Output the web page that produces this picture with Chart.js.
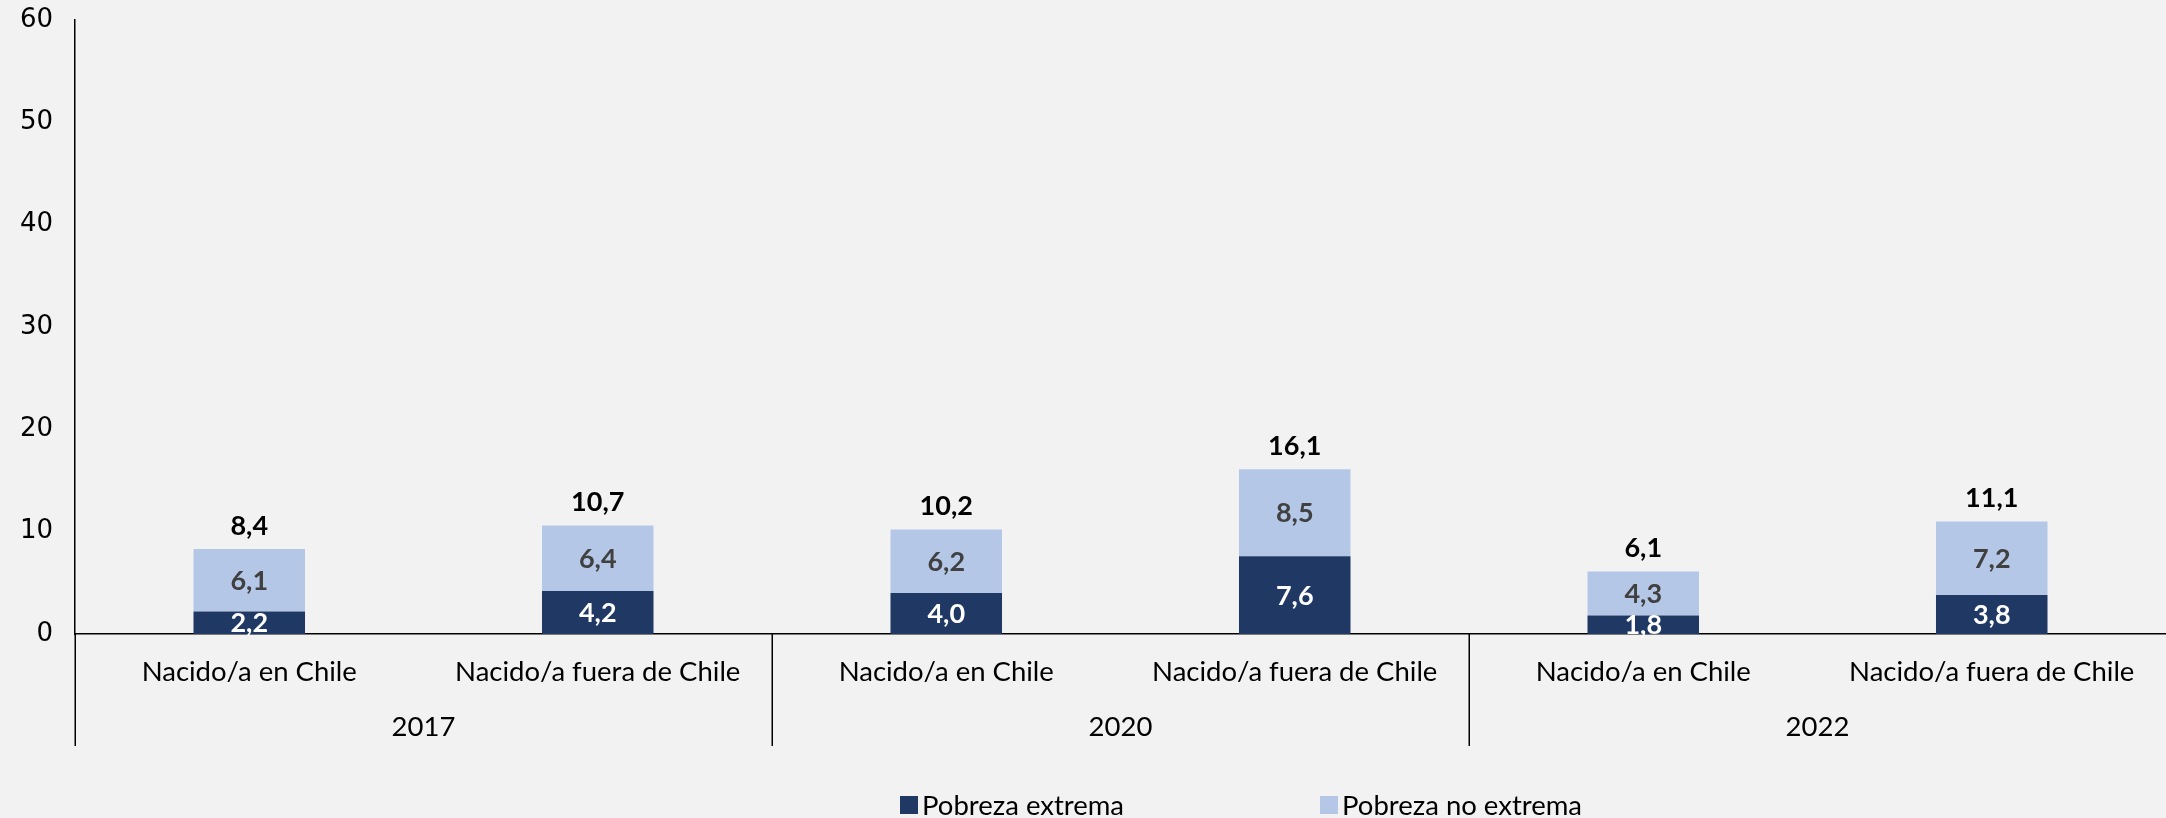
<!DOCTYPE html>
<html>
<head>
<meta charset="utf-8">
<script src="https://cdn.jsdelivr.net/npm/chart.js@4.4.1/dist/chart.umd.min.js"></script>
<style>
  html, body { margin: 0; padding: 0; background: #F2F2F2; }
  canvas { display: block; }
</style>
</head>
<body>
<canvas id="chart" width="2166" height="818"></canvas>
<script>
// ---- data ----
const categories = [
  'Nacido/a en Chile', 'Nacido/a fuera de Chile',
  'Nacido/a en Chile', 'Nacido/a fuera de Chile',
  'Nacido/a en Chile', 'Nacido/a fuera de Chile'
];
const years = ['2017', '2020', '2022'];
const seriesNames = ['Pobreza extrema', 'Pobreza no extrema'];
const pobrezaExtrema   = [2.2, 4.2, 4.0, 7.6, 1.8, 3.8];
const pobrezaNoExtrema = [6.1, 6.4, 6.2, 8.5, 4.3, 7.2];
const totales          = [8.4, 10.7, 10.2, 16.1, 6.1, 11.1];
const yTicks = [0, 10, 20, 30, 40, 50, 60];

// ---- styles ----
const COLOR_EXT = '#203864';
const COLOR_NOEXT = '#B4C7E7';
const LABEL_FONT = 'Lato';
const fmt = v => v.toFixed(1).replace('.', ',');

const bgPlugin = {
  id: 'bg',
  beforeDraw(chart) {
    const ctx = chart.ctx;
    ctx.save();
    ctx.fillStyle = '#F2F2F2';
    ctx.fillRect(0, 0, chart.width, chart.height);
    ctx.restore();
  }
};

const valueLabels = {
  id: 'valueLabels',
  afterDatasetsDraw(chart) {
    const ctx = chart.ctx;
    ctx.save();
    ctx.font = 'bold 27px ' + LABEL_FONT;
    ctx.textAlign = 'center';
    ctx.textBaseline = 'middle';
    const colors = ['#FFFFFF', '#404040'];
    chart.data.datasets.forEach((ds, di) => {
      const meta = chart.getDatasetMeta(di);
      meta.data.forEach((bar, i) => {
        const p = bar.getProps(['x', 'y', 'base'], true);
        ctx.fillStyle = colors[di];
        ctx.fillText(fmt(ds.data[i]), p.x, (p.y + p.base) / 2 + 1);
      });
    });
    const topMeta = chart.getDatasetMeta(chart.data.datasets.length - 1);
    ctx.fillStyle = '#000000';
    topMeta.data.forEach((bar, i) => {
      const p = bar.getProps(['x', 'y'], true);
      ctx.fillText(fmt(totales[i]), p.x, p.y - 23);
    });
    ctx.restore();
  }
};

const groupSeparators = {
  id: 'groupSeparators',
  afterDraw(chart) {
    const xs = chart.scales.x;
    const ctx = chart.ctx;
    ctx.save();
    ctx.strokeStyle = '#000000';
    ctx.lineWidth = 1.5;
    for (let i = 0; i < categories.length; i += 2) {
      const px = Math.round(xs.getPixelForValue(i - 0.5)) + 0.25;
      ctx.beginPath();
      ctx.moveTo(px, xs.top);
      ctx.lineTo(px, xs.top + 112);
      ctx.stroke();
    }
    ctx.restore();
  }
};

const customLegend = {
  id: 'customLegend',
  afterDraw(chart) {
    const ctx = chart.ctx;
    const itemX = [900, 1320];
    const cy = 805;
    ctx.save();
    ctx.font = '27.5px ' + LABEL_FONT;
    ctx.textBaseline = 'middle';
    ctx.textAlign = 'left';
    chart.data.datasets.forEach((ds, i) => {
      ctx.fillStyle = ds.backgroundColor;
      ctx.fillRect(itemX[i], cy - 9, 18, 18);
      ctx.fillStyle = '#000000';
      ctx.fillText(ds.label, itemX[i] + 22, cy + 1);
    });
    ctx.restore();
  }
};

new Chart(document.getElementById('chart'), {
  type: 'bar',
  data: {
    labels: categories,
    datasets: [
      { label: seriesNames[0], data: pobrezaExtrema, backgroundColor: COLOR_EXT,
        barPercentage: 0.32, categoryPercentage: 1.0 },
      { label: seriesNames[1], data: pobrezaNoExtrema, backgroundColor: COLOR_NOEXT,
        barPercentage: 0.32, categoryPercentage: 1.0 }
    ]
  },
  options: {
    responsive: false,
    animation: false,
    layout: { padding: { top: 20, right: 0, left: 0, bottom: 50 } },
    plugins: {
      legend: { display: false },
      tooltip: { enabled: false }
    },
    scales: {
      x: {
        stacked: true,
        offset: true,
        weight: 0,
        grid: { display: false, drawTicks: false },
        border: { display: true, color: '#000000', width: 1.5 },
        ticks: { padding: 22, color: '#000000', autoSkip: false, maxRotation: 0,
                 font: { family: LABEL_FONT, size: 27.5 } },
        afterFit(s) { s.height = 58; s.paddingLeft = 0; s.paddingRight = 0; }
      },
      x2: {
        type: 'category',
        labels: years,
        position: 'bottom',
        offset: true,
        weight: 1,
        grid: { display: false, drawTicks: false },
        border: { display: false },
        ticks: { padding: 19, color: '#000000', autoSkip: false, maxRotation: 0,
                 font: { family: LABEL_FONT, size: 27.5 } },
        afterFit(s) { s.height = 76; s.paddingLeft = 0; s.paddingRight = 0; }
      },
      y: {
        stacked: true,
        min: 0,
        max: 60,
        afterBuildTicks(s) { s.ticks = yTicks.map(v => ({ value: v })); },
        grid: { display: false, drawTicks: false },
        border: { display: true, color: '#000000', width: 1.5 },
        ticks: { padding: 22, color: '#000000',
                 font: { family: 'DejaVu Sans', size: 26 } },
        afterFit(s) { s.width = 75; s.paddingTop = 0; s.paddingBottom = 0; }
      }
    }
  },
  plugins: [bgPlugin, valueLabels, groupSeparators, customLegend]
});
</script>
</body>
</html>
